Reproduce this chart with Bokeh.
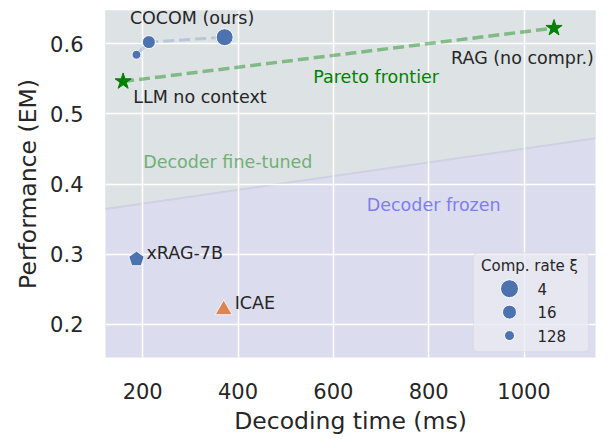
import math
from bokeh.plotting import figure
from bokeh.models import Range1d, Label, BoxAnnotation, FixedTicker
from bokeh.embed import file_html
from bokeh.resources import INLINE

# ---------------- data ----------------
cocom_time = [187, 213, 372]
cocom_em = [0.584, 0.602, 0.609]
cocom_rate = [128, 16, 4]

llm_time, llm_em = 159, 0.546
rag_time, rag_em = 1063, 0.622
xrag_time, xrag_em = 187, 0.293
icae_time, icae_em = 370, 0.221

pareto_time = [llm_time, rag_time]
pareto_em = [llm_em, rag_em]

boundary_time = [0, 1300]
boundary_em = [0.3526, 0.4797]

x_ticks = [200, 400, 600, 800, 1000]
y_ticks = [0.2, 0.3, 0.4, 0.5, 0.6]
legend_rates = [4, 16, 128]

# ---------------- style ----------------
FONT = "DejaVu Sans"
TXT = "#262626"
BLUE = "#4c72b0"
ORANGE = "#dd8452"
GREEN = "#008000"
rate_size = {4: 17, 16: 13, 128: 9}

p = figure(width=607, height=437,
           x_range=Range1d(122, 1150), y_range=Range1d(0.153, 0.647),
           output_backend="svg", toolbar_location=None,
           min_border_left=105, min_border_right=12,
           min_border_top=10, min_border_bottom=79,
           background_fill_color="#dcdcef", border_fill_color="white",
           outline_line_color=None)

# regions
r_top = p.varea(x=boundary_time, y1=boundary_em, y2=[1.0, 1.0],
                fill_color="#dde3e5")
r_top.level = "image"
r_edge = p.line(boundary_time, boundary_em, line_color="#cdd1e2",
                line_width=2)
r_edge.level = "image"

# grid
p.xgrid.ticker = FixedTicker(ticks=x_ticks)
p.ygrid.ticker = FixedTicker(ticks=y_ticks)
for g in (p.xgrid, p.ygrid):
    g.grid_line_color = "white"
    g.grid_line_width = 1.5

# axes
p.xaxis.ticker = FixedTicker(ticks=x_ticks)
p.yaxis.ticker = FixedTicker(ticks=y_ticks)
p.xaxis.axis_label = "Decoding time (ms)"
p.yaxis.axis_label = "Performance (EM)"
for ax in (p.xaxis[0], p.yaxis[0]):
    ax.axis_line_color = None
    ax.major_tick_line_color = None
    ax.minor_tick_line_color = None
    ax.major_tick_out = 0
    ax.major_tick_in = 0
    ax.major_label_text_font = FONT
    ax.major_label_text_font_size = "21px"
    ax.major_label_text_color = TXT
    ax.axis_label_text_font = FONT
    ax.axis_label_text_font_size = "23.5px"
    ax.axis_label_text_font_style = "normal"
    ax.axis_label_text_color = TXT
p.xaxis.major_label_standoff = 25
p.xaxis.axis_label_standoff = 5
p.yaxis.major_label_standoff = 22
p.yaxis.axis_label_standoff = 5

# lines
p.line(cocom_time, cocom_em, line_color=BLUE, line_alpha=0.25,
       line_width=3, line_dash="11 5")
p.line(pareto_time, pareto_em, line_color=GREEN, line_alpha=0.42,
       line_width=3.5, line_dash="11 5")

# markers
p.scatter(cocom_time, cocom_em, size=[rate_size[r] for r in cocom_rate],
          marker="circle", fill_color=BLUE, line_color="white", line_width=1)
p.scatter(pareto_time, pareto_em, marker="star", size=17,
          fill_color=GREEN, line_color=GREEN, line_width=1)
if hasattr(p, "ngon"):
    p.ngon(x=[xrag_time], y=[xrag_em], radius=8, radius_units="screen",
           n=5, angle=0, fill_color=BLUE, line_color="white",
           line_width=0.8)
else:
    p.scatter([xrag_time], [xrag_em], marker="hex", size=16,
              fill_color=BLUE, line_color="white")
p.scatter([icae_time], [icae_em], marker="triangle", size=17,
          fill_color=ORANGE, line_color="white", line_width=0.8)

# annotations
def lab(x, y, text, dx=0, dy=0, color=TXT, size="17.5px", align="left"):
    p.add_layout(Label(x=x, y=y, x_offset=dx, y_offset=dy, text=text,
                       text_font=FONT, text_font_size=size,
                       text_color=color, text_baseline="middle",
                       text_align=align))

lab(cocom_time[1], cocom_em[1], "COCOM (ours)", dx=-19, dy=24)
lab(llm_time, llm_em, "LLM no context", dx=10, dy=-16)
lab(rag_time, rag_em, "RAG (no compr.)", dx=-103, dy=-30)
lab(xrag_time, xrag_em, "xRAG-7B", dx=10, dy=6)
lab(icae_time, icae_em, "ICAE", dx=11, dy=7)
lab(558, 0.553, "Pareto frontier", color=GREEN)
lab(201, 0.431, "Decoder fine-tuned", color="#6eb172")
lab(670, 0.370, "Decoder frozen", color="#7e7ef0")

# legend (drawn in pixel space of the frame)
p.extra_x_ranges = {"px": Range1d(0, 490)}
p.extra_y_ranges = {"py": Range1d(0, 348)}
box = BoxAnnotation(left=368, right=483, bottom=6, top=105,
                    x_range_name="px", y_range_name="py",
                    fill_color="#eaeaf2", fill_alpha=0.8,
                    line_color="#cccccc", line_width=1.2, border_radius=4)
p.add_layout(box)
legend_row_y = [69, 45.5, 22]
lg = p.scatter(x=[404] * 3, y=legend_row_y,
               size=[rate_size[r] + 1 for r in legend_rates],
               marker="circle", fill_color=BLUE, line_color="white",
               line_width=1, x_range_name="px", y_range_name="py")
lg.level = "overlay"
p.add_layout(Label(x=424, y=92, text="Comp. rate ξ", x_range_name="px",
                   y_range_name="py", text_font=FONT,
                   text_font_size="15px", text_color=TXT,
                   text_baseline="middle", text_align="center",
                   level="overlay"))
for r, yy in zip(legend_rates, legend_row_y):
    p.add_layout(Label(x=432, y=yy, text=str(r), x_range_name="px",
                       y_range_name="py", text_font=FONT,
                       text_font_size="15px", text_color=TXT,
                       text_baseline="middle", text_align="left",
                       level="overlay"))

open("out.html", "w").write(file_html(p, INLINE))
